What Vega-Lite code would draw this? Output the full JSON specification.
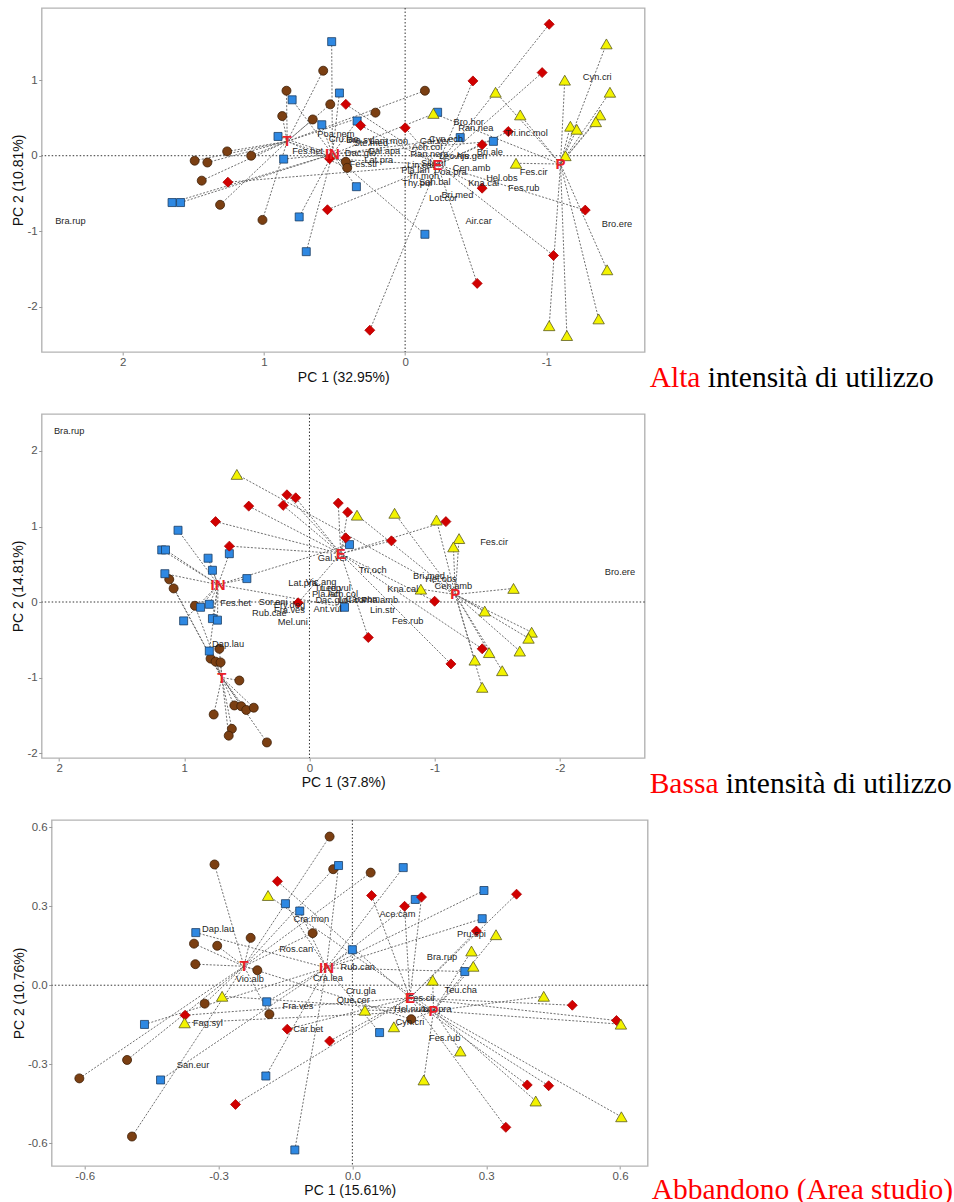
{
"$schema": "https://vega.github.io/schema/vega-lite/v6.json",
"padding": {"left": 9.7, "top": 2, "right": 0, "bottom": 0},
"background": "white",
"config": {
 "view": {"stroke": "#b4b4b4", "strokeWidth": 1.4},
 "font": "Liberation Sans",
 "axis": {"grid": false, "domain": false, "ticks": true, "tickColor": "#9a9a9a", "tickSize": 3, "tickWidth": 1, "labelPadding": 1.5, "labelFont": "Liberation Sans", "labelFontSize": 11.5, "labelColor": "#555555", "labelFlush": false, "labelOverlap": false, "titleFont": "Liberation Sans", "titleFontSize": 14, "titleFontWeight": "normal", "titleColor": "#111111", "titlePadding": 2},
 "axisY": {"titlePadding": 1}
},
"datasets": {
 "p1": [
  {"g":"T","x":0.58,"y":1.125},{"g":"T","x":0.84,"y":0.86},{"g":"T","x":0.87,"y":0.525},{"g":"T","x":0.654,"y":0.48},{"g":"T","x":0.53,"y":0.68},{"g":"T","x":-0.14,"y":0.86},{"g":"T","x":0.21,"y":0.57},{"g":"T","x":0.42,"y":-0.08},{"g":"T","x":0.41,"y":-0.16},{"g":"T","x":1.26,"y":0.057},{"g":"T","x":1.09,"y":0.0},{"g":"T","x":1.49,"y":-0.066},{"g":"T","x":1.40,"y":-0.09},{"g":"T","x":1.44,"y":-0.33},{"g":"T","x":1.31,"y":-0.65},{"g":"T","x":1.01,"y":-0.85},
  {"g":"IN","x":0.52,"y":1.51},{"g":"IN","x":0.80,"y":0.74},{"g":"IN","x":0.90,"y":0.255},{"g":"IN","x":0.59,"y":0.41},{"g":"IN","x":0.86,"y":-0.045},{"g":"IN","x":1.65,"y":-0.62},{"g":"IN","x":1.59,"y":-0.62},{"g":"IN","x":0.75,"y":-0.81},{"g":"IN","x":0.70,"y":-1.27},{"g":"IN","x":0.465,"y":0.83},{"g":"IN","x":0.34,"y":0.46},{"g":"IN","x":0.345,"y":-0.41},{"g":"IN","x":-0.23,"y":0.575},{"g":"IN","x":-0.39,"y":0.24},{"g":"IN","x":-0.625,"y":0.19},{"g":"IN","x":-0.14,"y":-1.04},
  {"g":"E","x":1.255,"y":-0.35},{"g":"E","x":0.55,"y":-0.715},{"g":"E","x":0.535,"y":-0.04},{"g":"E","x":-1.02,"y":1.74},{"g":"E","x":-0.97,"y":1.10},{"g":"E","x":-0.48,"y":0.99},{"g":"E","x":0.42,"y":0.68},{"g":"E","x":0.315,"y":0.40},{"g":"E","x":0.0,"y":0.37},{"g":"E","x":-0.73,"y":0.32},{"g":"E","x":-0.545,"y":0.145},{"g":"E","x":-0.545,"y":-0.43},{"g":"E","x":-1.275,"y":-0.72},{"g":"E","x":-1.05,"y":-1.32},{"g":"E","x":-0.51,"y":-1.69},{"g":"E","x":0.25,"y":-2.31},
  {"g":"P","x":-1.425,"y":1.48},{"g":"P","x":-1.13,"y":1.0},{"g":"P","x":-1.45,"y":0.84},{"g":"P","x":-0.64,"y":0.84},{"g":"P","x":-0.815,"y":0.54},{"g":"P","x":-1.38,"y":0.54},{"g":"P","x":-1.35,"y":0.45},{"g":"P","x":-1.17,"y":0.39},{"g":"P","x":-1.215,"y":0.35},{"g":"P","x":-0.2,"y":0.56},{"g":"P","x":-1.135,"y":0.0},{"g":"P","x":-0.785,"y":-0.1},{"g":"P","x":-1.43,"y":-1.51},{"g":"P","x":-1.37,"y":-2.16},{"g":"P","x":-1.02,"y":-2.25},{"g":"P","x":-1.145,"y":-2.38}
 ],
 "c1": [{"g":"T","x":0.835,"y":0.19},{"g":"IN","x":0.515,"y":0.02},{"g":"E","x":-0.23,"y":-0.12},{"g":"P","x":-1.10,"y":-0.11}],
 "s1": [{"n":"Bra.rup","x":2.37,"y":-0.87},{"n":"Cyn.cri","x":-1.36,"y":1.04},{"n":"Bro.ere","x":-1.50,"y":-0.91},{"n":"Fes.cir","x":-0.91,"y":-0.21},{"n":"Fes.rub","x":-0.84,"y":-0.43},{"n":"Air.car","x":-0.52,"y":-0.86},{"n":"Bro.hor","x":-0.45,"y":0.44},{"n":"Ran.nea","x":-0.50,"y":0.37},{"n":"Tri.inc.mol","x":-0.86,"y":0.30},{"n":"Bri.ale","x":-0.60,"y":0.044},{"n":"Cyn.ech","x":-0.29,"y":0.22},{"n":"Gal.ver","x":-0.21,"y":0.19},{"n":"Ach.col","x":-0.155,"y":0.12},{"n":"Ran.nem","x":-0.17,"y":0.026},{"n":"Leo.his","x":-0.345,"y":0.0},{"n":"Aju.gen","x":-0.47,"y":0.0},{"n":"Lin.cat","x":-0.11,"y":-0.12},{"n":"Sil.vul","x":-0.20,"y":-0.10},{"n":"Pla.lan","x":-0.073,"y":-0.19},{"n":"Cen.amb","x":-0.47,"y":-0.16},{"n":"Poa.pra","x":-0.32,"y":-0.22},{"n":"Tri.mon","x":-0.13,"y":-0.27},{"n":"Hel.obs","x":-0.685,"y":-0.29},{"n":"Kna.cal","x":-0.556,"y":-0.36},{"n":"Thy.pul","x":-0.085,"y":-0.36},{"n":"San.bal","x":-0.21,"y":-0.35},{"n":"Bri.med","x":-0.37,"y":-0.52},{"n":"Lot.cor","x":-0.27,"y":-0.56},{"n":"Poa.nem","x":0.49,"y":0.29},{"n":"Cru.lae","x":0.435,"y":0.22},{"n":"Bra.syl","x":0.316,"y":0.21},{"n":"Ste.med","x":0.243,"y":0.168},{"n":"Lam.mon","x":0.116,"y":0.19},{"n":"Fes.het","x":0.69,"y":0.057},{"n":"Dac.glo","x":0.316,"y":0.036},{"n":"Gal.apa","x":0.15,"y":0.057},{"n":"Lat.pra","x":0.187,"y":-0.053},{"n":"Fes.str","x":0.293,"y":-0.11}],
 "p2": [
  {"g":"T","x":1.12,"y":0.30},{"g":"T","x":1.085,"y":0.18},{"g":"T","x":0.915,"y":-0.05},{"g":"T","x":0.79,"y":-0.75},{"g":"T","x":0.75,"y":-0.79},{"g":"T","x":0.71,"y":-0.80},{"g":"T","x":0.72,"y":-0.62},{"g":"T","x":0.56,"y":-1.04},{"g":"T","x":0.765,"y":-1.49},{"g":"T","x":0.60,"y":-1.37},{"g":"T","x":0.545,"y":-1.38},{"g":"T","x":0.505,"y":-1.43},{"g":"T","x":0.445,"y":-1.40},{"g":"T","x":0.62,"y":-1.68},{"g":"T","x":0.645,"y":-1.77},{"g":"T","x":0.34,"y":-1.86},
  {"g":"IN","x":1.05,"y":0.95},{"g":"IN","x":1.18,"y":0.69},{"g":"IN","x":1.15,"y":0.69},{"g":"IN","x":1.155,"y":0.375},{"g":"IN","x":0.81,"y":0.58},{"g":"IN","x":0.775,"y":0.42},{"g":"IN","x":0.64,"y":0.64},{"g":"IN","x":0.50,"y":0.31},{"g":"IN","x":0.87,"y":-0.07},{"g":"IN","x":0.80,"y":-0.03},{"g":"IN","x":1.005,"y":-0.25},{"g":"IN","x":0.775,"y":-0.22},{"g":"IN","x":0.735,"y":-0.24},{"g":"IN","x":0.80,"y":-0.65},{"g":"IN","x":-0.32,"y":0.76},{"g":"IN","x":-0.28,"y":-0.07},
  {"g":"E","x":0.18,"y":1.42},{"g":"E","x":0.11,"y":1.38},{"g":"E","x":0.21,"y":1.28},{"g":"E","x":0.485,"y":1.27},{"g":"E","x":0.75,"y":1.065},{"g":"E","x":0.64,"y":0.74},{"g":"E","x":0.09,"y":-0.01},{"g":"E","x":-0.23,"y":1.31},{"g":"E","x":-0.305,"y":1.19},{"g":"E","x":-0.29,"y":0.85},{"g":"E","x":-0.655,"y":0.81},{"g":"E","x":-1.09,"y":1.065},{"g":"E","x":-0.47,"y":-0.47},{"g":"E","x":-1.0,"y":0.01},{"g":"E","x":-1.13,"y":-0.82},{"g":"E","x":-1.38,"y":-0.62},
  {"g":"P","x":0.58,"y":1.69},{"g":"P","x":-0.38,"y":1.15},{"g":"P","x":-0.68,"y":1.175},{"g":"P","x":-1.015,"y":1.085},{"g":"P","x":-1.195,"y":0.84},{"g":"P","x":-1.15,"y":0.73},{"g":"P","x":-0.89,"y":0.17},{"g":"P","x":-1.63,"y":0.18},{"g":"P","x":-1.40,"y":-0.12},{"g":"P","x":-1.775,"y":-0.40},{"g":"P","x":-1.75,"y":-0.48},{"g":"P","x":-1.68,"y":-0.65},{"g":"P","x":-1.435,"y":-0.67},{"g":"P","x":-1.32,"y":-0.77},{"g":"P","x":-1.54,"y":-0.91},{"g":"P","x":-1.38,"y":-1.13}
 ],
 "c2": [{"g":"T","x":0.70,"y":-1.0},{"g":"IN","x":0.73,"y":0.23},{"g":"E","x":-0.25,"y":0.64},{"g":"P","x":-1.165,"y":0.10}],
 "s2": [{"n":"Bra.rup","x":1.92,"y":2.27},{"n":"Bro.ere","x":-2.48,"y":0.40},{"n":"Fes.cir","x":-1.475,"y":0.79},{"n":"Tri.och","x":-0.505,"y":0.43},{"n":"Bri.med","x":-0.955,"y":0.35},{"n":"Hel.obs","x":-1.05,"y":0.30},{"n":"Cen.amb","x":-1.15,"y":0.21},{"n":"Kna.cal","x":-0.745,"y":0.17},{"n":"Lin.str","x":-0.585,"y":-0.10},{"n":"Fes.rub","x":-0.785,"y":-0.25},{"n":"Gal.ver","x":-0.186,"y":0.58},{"n":"Lat.pra","x":0.053,"y":0.25},{"n":"Vic.ang","x":-0.093,"y":0.265},{"n":"Tri.rep","x":-0.146,"y":0.18},{"n":"Leu.vul","x":-0.21,"y":0.19},{"n":"Pla.lan","x":-0.133,"y":0.11},{"n":"Ach.col","x":-0.266,"y":0.11},{"n":"Dac.glo","x":-0.173,"y":0.02},{"n":"Lot.cor","x":-0.345,"y":0.02},{"n":"Car.com","x":-0.425,"y":0.045},{"n":"Pha.amb","x":-0.56,"y":0.02},{"n":"Ant.vul","x":-0.146,"y":-0.09},{"n":"Fes.het","x":0.59,"y":-0.01},{"n":"Sor.ani","x":0.29,"y":0.0},{"n":"Ery.deg","x":0.16,"y":-0.04},{"n":"Fra.ves","x":0.16,"y":-0.10},{"n":"Rub.cae","x":0.32,"y":-0.15},{"n":"Mel.uni","x":0.133,"y":-0.26},{"n":"Dap.lau","x":0.65,"y":-0.55}],
 "p3": [
  {"g":"T","x":-0.051,"y":0.565},{"g":"T","x":-0.309,"y":0.459},{"g":"T","x":-0.228,"y":0.18},{"g":"T","x":-0.355,"y":0.158},{"g":"T","x":-0.303,"y":0.15},{"g":"T","x":-0.352,"y":0.08},{"g":"T","x":-0.213,"y":0.057},{"g":"T","x":-0.089,"y":0.198},{"g":"T","x":-0.331,"y":-0.07},{"g":"T","x":-0.186,"y":-0.11},{"g":"T","x":-0.505,"y":-0.284},{"g":"T","x":-0.612,"y":-0.354},{"g":"T","x":-0.494,"y":-0.575},{"g":"T","x":-0.043,"y":0.441},{"g":"T","x":0.041,"y":0.428},{"g":"T","x":0.132,"y":-0.129},
  {"g":"IN","x":-0.150,"y":0.31},{"g":"IN","x":-0.118,"y":0.282},{"g":"IN","x":-0.351,"y":0.20},{"g":"IN","x":-0.192,"y":-0.063},{"g":"IN","x":-0.466,"y":-0.149},{"g":"IN","x":-0.43,"y":-0.36},{"g":"IN","x":-0.194,"y":-0.345},{"g":"IN","x":-0.129,"y":-0.626},{"g":"IN","x":-0.031,"y":0.455},{"g":"IN","x":0.114,"y":0.447},{"g":"IN","x":0.295,"y":0.36},{"g":"IN","x":0.141,"y":0.326},{"g":"IN","x":0.291,"y":0.253},{"g":"IN","x":0.0,"y":0.135},{"g":"IN","x":0.252,"y":0.052},{"g":"IN","x":0.061,"y":-0.18},
  {"g":"E","x":-0.168,"y":0.395},{"g":"E","x":-0.375,"y":-0.114},{"g":"E","x":-0.146,"y":-0.167},{"g":"E","x":-0.262,"y":-0.453},{"g":"E","x":-0.051,"y":-0.212},{"g":"E","x":0.043,"y":0.341},{"g":"E","x":0.117,"y":0.30},{"g":"E","x":0.155,"y":0.335},{"g":"E","x":0.368,"y":0.346},{"g":"E","x":0.278,"y":0.206},{"g":"E","x":0.493,"y":-0.076},{"g":"E","x":0.592,"y":-0.134},{"g":"E","x":0.392,"y":-0.379},{"g":"E","x":0.44,"y":-0.382},{"g":"E","x":0.344,"y":-0.54},
  {"g":"P","x":-0.189,"y":0.341},{"g":"P","x":-0.292,"y":-0.042},{"g":"P","x":-0.376,"y":-0.143},{"g":"P","x":0.322,"y":0.192},{"g":"P","x":0.267,"y":0.13},{"g":"P","x":0.271,"y":0.072},{"g":"P","x":0.18,"y":0.019},{"g":"P","x":0.429,"y":-0.042},{"g":"P","x":0.028,"y":-0.095},{"g":"P","x":0.093,"y":-0.158},{"g":"P","x":0.602,"y":-0.148},{"g":"P","x":0.242,"y":-0.25},{"g":"P","x":0.16,"y":-0.36},{"g":"P","x":0.411,"y":-0.44},{"g":"P","x":0.603,"y":-0.50}
 ],
 "c3": [{"g":"T","x":-0.243,"y":0.072},{"g":"IN","x":-0.058,"y":0.066},{"g":"E","x":0.129,"y":-0.048},{"g":"P","x":0.182,"y":-0.097}],
 "s3": [{"n":"Dap.lau","x":-0.301,"y":0.215},{"n":"Cra.mon","x":-0.092,"y":0.25},{"n":"Ros.can","x":-0.126,"y":0.137},{"n":"Vio.alb","x":-0.23,"y":0.023},{"n":"Cra.lea","x":-0.055,"y":0.028},{"n":"Fra.ves","x":-0.122,"y":-0.08},{"n":"Fag.syl","x":-0.324,"y":-0.143},{"n":"Car.bet","x":-0.099,"y":-0.165},{"n":"San.eur","x":-0.357,"y":-0.303},{"n":"Ace.cam","x":0.101,"y":0.272},{"n":"Pru.spi","x":0.267,"y":0.196},{"n":"Bra.rup","x":0.201,"y":0.107},{"n":"Rub.can","x":0.012,"y":0.069},{"n":"Teu.cha","x":0.243,"y":-0.017},{"n":"Cru.gla","x":0.019,"y":-0.022},{"n":"Que.cer","x":0.002,"y":-0.057},{"n":"Fes.cir","x":0.155,"y":-0.047},{"n":"Hel.num","x":0.132,"y":-0.089},{"n":"Lot.pra","x":0.19,"y":-0.089},{"n":"Cyn.cri","x":0.129,"y":-0.139},{"n":"Fes.rub","x":0.207,"y":-0.202}]
},
"columns": 1,
"spacing": 15,
"concat": [
 {"spacing": 0, "hconcat": [
  {"width": 1, "height": 1, "view": {"stroke": null}, "data": {"values": [{}]}, "mark": {"type": "text"}, "encoding": {"text": {"value": ""}}},
  {"spacing": 3, "hconcat": [
  {"width": 603, "height": 344, "layer": [
   {"data": {"values": [{}]}, "mark": {"type": "rule", "color": "#333333", "strokeWidth": 1, "strokeDash": [1.5, 2]},
    "encoding": {"x": {"datum": 0, "type": "quantitative", "scale": {"domain": [-1.696, 2.573], "reverse": true, "nice": false, "zero": false}, "axis": {"values": [-1, 0, 1, 2], "labelExpr": "replace(datum.label, '−', '-')"}, "title": "PC 1 (32.95%)"}}},
   {"data": {"values": [{}]}, "mark": {"type": "rule", "color": "#333333", "strokeWidth": 1, "strokeDash": [1.5, 2]},
    "encoding": {"y": {"datum": 0, "type": "quantitative", "scale": {"domain": [-2.598, 1.955], "nice": false, "zero": false}, "axis": {"values": [-2, -1, 0, 1], "labelExpr": "replace(datum.label, '−', '-')"}, "title": "PC 2 (10.81%)"}}},
   {"data": {"name": "p1"}, "transform": [{"lookup": "g", "from": {"data": {"name": "c1"}, "key": "g", "fields": ["x", "y"]}, "as": ["cx", "cy"]}],
    "mark": {"type": "rule", "color": "#5e5e5e", "strokeWidth": 0.9, "strokeDash": [2, 1.6], "clip": true},
    "encoding": {
     "x": {"field": "x", "type": "quantitative", "scale": {"domain": [-1.696, 2.573], "reverse": true, "nice": false, "zero": false}, "axis": {"values": [-1, 0, 1, 2], "labelExpr": "replace(datum.label, '−', '-')"}, "title": "PC 1 (32.95%)"},
     "y": {"field": "y", "type": "quantitative", "scale": {"domain": [-2.598, 1.955], "nice": false, "zero": false}, "axis": {"values": [-2, -1, 0, 1], "labelExpr": "replace(datum.label, '−', '-')"}, "title": "PC 2 (10.81%)"},
     "x2": {"field": "cx"}, "y2": {"field": "cy"}}},
   {"data": {"name": "p1"}, "mark": {"type": "point", "filled": true, "opacity": 1, "strokeWidth": 0.8, "clip": true},
    "encoding": {
     "x": {"field": "x", "type": "quantitative", "scale": {"domain": [-1.696, 2.573], "reverse": true, "nice": false, "zero": false}, "axis": {"values": [-1, 0, 1, 2], "labelExpr": "replace(datum.label, '−', '-')"}, "title": "PC 1 (32.95%)"},
     "y": {"field": "y", "type": "quantitative", "scale": {"domain": [-2.598, 1.955], "nice": false, "zero": false}, "axis": {"values": [-2, -1, 0, 1], "labelExpr": "replace(datum.label, '−', '-')"}, "title": "PC 2 (10.81%)"},
     "shape": {"field": "g", "type": "nominal", "scale": {"domain": ["T", "IN", "E", "P"], "range": ["circle", "square", "diamond", "triangle-up"]}, "legend": null},
     "fill": {"field": "g", "type": "nominal", "scale": {"domain": ["T", "IN", "E", "P"], "range": ["#7b3f12", "#2e88e2", "#d10000", "#f3f300"]}, "legend": null},
     "stroke": {"field": "g", "type": "nominal", "scale": {"domain": ["T", "IN", "E", "P"], "range": ["#3d1f08", "#1c3d63", "#b00000", "#5a5a20"]}, "legend": null},
     "size": {"field": "g", "type": "nominal", "scale": {"type": "ordinal", "domain": ["T", "IN", "E", "P"], "range": [81, 64, 100, 130]}, "legend": null}}},
   {"data": {"name": "s1"}, "mark": {"type": "text", "fontSize": 9.3, "color": "#1f1f1f", "clip": true},
    "encoding": {
     "x": {"field": "x", "type": "quantitative", "scale": {"domain": [-1.696, 2.573], "reverse": true, "nice": false, "zero": false}, "axis": {"values": [-1, 0, 1, 2], "labelExpr": "replace(datum.label, '−', '-')"}, "title": "PC 1 (32.95%)"},
     "y": {"field": "y", "type": "quantitative", "scale": {"domain": [-2.598, 1.955], "nice": false, "zero": false}, "axis": {"values": [-2, -1, 0, 1], "labelExpr": "replace(datum.label, '−', '-')"}, "title": "PC 2 (10.81%)"},
     "text": {"field": "n"}}},
   {"data": {"name": "c1"}, "mark": {"type": "text", "fontSize": 15, "fontWeight": "bold", "color": "#ea2027"},
    "encoding": {
     "x": {"field": "x", "type": "quantitative", "scale": {"domain": [-1.696, 2.573], "reverse": true, "nice": false, "zero": false}, "axis": {"values": [-1, 0, 1, 2], "labelExpr": "replace(datum.label, '−', '-')"}, "title": "PC 1 (32.95%)"},
     "y": {"field": "y", "type": "quantitative", "scale": {"domain": [-2.598, 1.955], "nice": false, "zero": false}, "axis": {"values": [-2, -1, 0, 1], "labelExpr": "replace(datum.label, '−', '-')"}, "title": "PC 2 (10.81%)"},
     "text": {"field": "g"}}}
  ]},
  {"width": 300, "height": 379, "view": {"stroke": null}, "data": {"values": [{"a": "Alta", "b": "intensità di utilizzo"}]}, "layer": [
   {"mark": {"type": "text", "font": "Liberation Serif", "fontSize": 29.5, "color": "#ff0000", "align": "left", "baseline": "alphabetic"},
    "encoding": {"text": {"field": "a"}, "x": {"datum": 0, "type": "quantitative", "scale": {"domain": [0, 1]}, "axis": null}, "y": {"datum": 0, "type": "quantitative", "scale": {"domain": [0, 1]}, "axis": null}}},
   {"mark": {"type": "text", "font": "Liberation Serif", "fontSize": 29.5, "color": "#000000", "align": "left", "baseline": "alphabetic", "dx": 58},
    "encoding": {"text": {"field": "b"}, "x": {"datum": 0, "type": "quantitative", "scale": {"domain": [0, 1]}, "axis": null}, "y": {"datum": 0, "type": "quantitative", "scale": {"domain": [0, 1]}, "axis": null}}}
  ]}
  ]}
 ]},
 {"spacing": 0, "hconcat": [
  {"width": 1, "height": 1, "view": {"stroke": null}, "data": {"values": [{}]}, "mark": {"type": "text"}, "encoding": {"text": {"value": ""}}},
  {"spacing": 3, "hconcat": [
  {"width": 603, "height": 344, "layer": [
   {"data": {"values": [{}]}, "mark": {"type": "rule", "color": "#333333", "strokeWidth": 1, "strokeDash": [1.5, 2]},
    "encoding": {"x": {"datum": 0, "type": "quantitative", "scale": {"domain": [-2.678, 2.139], "reverse": true, "nice": false, "zero": false}, "axis": {"values": [-2, -1, 0, 1, 2], "labelExpr": "replace(datum.label, '−', '-')"}, "title": "PC 1 (37.8%)"}}},
   {"data": {"values": [{}]}, "mark": {"type": "rule", "color": "#333333", "strokeWidth": 1, "strokeDash": [1.5, 2]},
    "encoding": {"y": {"datum": 0, "type": "quantitative", "scale": {"domain": [-2.066, 2.49], "nice": false, "zero": false}, "axis": {"values": [-2, -1, 0, 1, 2], "labelExpr": "replace(datum.label, '−', '-')"}, "title": "PC 2 (14.81%)"}}},
   {"data": {"name": "p2"}, "transform": [{"lookup": "g", "from": {"data": {"name": "c2"}, "key": "g", "fields": ["x", "y"]}, "as": ["cx", "cy"]}],
    "mark": {"type": "rule", "color": "#5e5e5e", "strokeWidth": 0.9, "strokeDash": [2, 1.6], "clip": true},
    "encoding": {
     "x": {"field": "x", "type": "quantitative", "scale": {"domain": [-2.678, 2.139], "reverse": true, "nice": false, "zero": false}, "axis": {"values": [-2, -1, 0, 1, 2], "labelExpr": "replace(datum.label, '−', '-')"}, "title": "PC 1 (37.8%)"},
     "y": {"field": "y", "type": "quantitative", "scale": {"domain": [-2.066, 2.49], "nice": false, "zero": false}, "axis": {"values": [-2, -1, 0, 1, 2], "labelExpr": "replace(datum.label, '−', '-')"}, "title": "PC 2 (14.81%)"},
     "x2": {"field": "cx"}, "y2": {"field": "cy"}}},
   {"data": {"name": "p2"}, "mark": {"type": "point", "filled": true, "opacity": 1, "strokeWidth": 0.8, "clip": true},
    "encoding": {
     "x": {"field": "x", "type": "quantitative", "scale": {"domain": [-2.678, 2.139], "reverse": true, "nice": false, "zero": false}, "axis": {"values": [-2, -1, 0, 1, 2], "labelExpr": "replace(datum.label, '−', '-')"}, "title": "PC 1 (37.8%)"},
     "y": {"field": "y", "type": "quantitative", "scale": {"domain": [-2.066, 2.49], "nice": false, "zero": false}, "axis": {"values": [-2, -1, 0, 1, 2], "labelExpr": "replace(datum.label, '−', '-')"}, "title": "PC 2 (14.81%)"},
     "shape": {"field": "g", "type": "nominal", "scale": {"domain": ["T", "IN", "E", "P"], "range": ["circle", "square", "diamond", "triangle-up"]}, "legend": null},
     "fill": {"field": "g", "type": "nominal", "scale": {"domain": ["T", "IN", "E", "P"], "range": ["#7b3f12", "#2e88e2", "#d10000", "#f3f300"]}, "legend": null},
     "stroke": {"field": "g", "type": "nominal", "scale": {"domain": ["T", "IN", "E", "P"], "range": ["#3d1f08", "#1c3d63", "#b00000", "#5a5a20"]}, "legend": null},
     "size": {"field": "g", "type": "nominal", "scale": {"type": "ordinal", "domain": ["T", "IN", "E", "P"], "range": [81, 64, 100, 130]}, "legend": null}}},
   {"data": {"name": "s2"}, "mark": {"type": "text", "fontSize": 9.3, "color": "#1f1f1f", "clip": true},
    "encoding": {
     "x": {"field": "x", "type": "quantitative", "scale": {"domain": [-2.678, 2.139], "reverse": true, "nice": false, "zero": false}, "axis": {"values": [-2, -1, 0, 1, 2], "labelExpr": "replace(datum.label, '−', '-')"}, "title": "PC 1 (37.8%)"},
     "y": {"field": "y", "type": "quantitative", "scale": {"domain": [-2.066, 2.49], "nice": false, "zero": false}, "axis": {"values": [-2, -1, 0, 1, 2], "labelExpr": "replace(datum.label, '−', '-')"}, "title": "PC 2 (14.81%)"},
     "text": {"field": "n"}}},
   {"data": {"name": "c2"}, "mark": {"type": "text", "fontSize": 15, "fontWeight": "bold", "color": "#ea2027"},
    "encoding": {
     "x": {"field": "x", "type": "quantitative", "scale": {"domain": [-2.678, 2.139], "reverse": true, "nice": false, "zero": false}, "axis": {"values": [-2, -1, 0, 1, 2], "labelExpr": "replace(datum.label, '−', '-')"}, "title": "PC 1 (37.8%)"},
     "y": {"field": "y", "type": "quantitative", "scale": {"domain": [-2.066, 2.49], "nice": false, "zero": false}, "axis": {"values": [-2, -1, 0, 1, 2], "labelExpr": "replace(datum.label, '−', '-')"}, "title": "PC 2 (14.81%)"},
     "text": {"field": "g"}}}
  ]},
  {"width": 300, "height": 379, "view": {"stroke": null}, "data": {"values": [{"a": "Bassa", "b": "intensità di utilizzo"}]}, "layer": [
   {"mark": {"type": "text", "font": "Liberation Serif", "fontSize": 29.5, "color": "#ff0000", "align": "left", "baseline": "alphabetic"},
    "encoding": {"text": {"field": "a"}, "x": {"datum": 0, "type": "quantitative", "scale": {"domain": [0, 1]}, "axis": null}, "y": {"datum": 0, "type": "quantitative", "scale": {"domain": [0, 1]}, "axis": null}}},
   {"mark": {"type": "text", "font": "Liberation Serif", "fontSize": 29.5, "color": "#000000", "align": "left", "baseline": "alphabetic", "dx": 76},
    "encoding": {"text": {"field": "b"}, "x": {"datum": 0, "type": "quantitative", "scale": {"domain": [0, 1]}, "axis": null}, "y": {"datum": 0, "type": "quantitative", "scale": {"domain": [0, 1]}, "axis": null}}}
  ]}
  ]}
 ]},
 {"spacing": 0, "hconcat": [
  {"width": 1, "height": 1, "view": {"stroke": null}, "data": {"values": [{}]}, "mark": {"type": "text"}, "encoding": {"text": {"value": ""}}},
  {"spacing": 2, "hconcat": [
  {"width": 596, "height": 346, "layer": [
   {"data": {"values": [{}]}, "mark": {"type": "rule", "color": "#333333", "strokeWidth": 1, "strokeDash": [1.5, 2]},
    "encoding": {"x": {"datum": 0, "type": "quantitative", "scale": {"domain": [-0.674, 0.662], "nice": false, "zero": false}, "axis": {"values": [-0.6, -0.3, 0, 0.3, 0.6], "format": ".1f", "labelExpr": "replace(datum.label, '−', '-')"}, "title": "PC 1 (15.61%)"}}},
   {"data": {"values": [{}]}, "mark": {"type": "rule", "color": "#333333", "strokeWidth": 1, "strokeDash": [1.5, 2]},
    "encoding": {"y": {"datum": 0, "type": "quantitative", "scale": {"domain": [-0.687, 0.628], "nice": false, "zero": false}, "axis": {"values": [-0.6, -0.3, 0, 0.3, 0.6], "format": ".1f", "labelExpr": "replace(datum.label, '−', '-')"}, "title": "PC 2 (10.76%)"}}},
   {"data": {"name": "p3"}, "transform": [{"lookup": "g", "from": {"data": {"name": "c3"}, "key": "g", "fields": ["x", "y"]}, "as": ["cx", "cy"]}],
    "mark": {"type": "rule", "color": "#5e5e5e", "strokeWidth": 0.9, "strokeDash": [2, 1.6], "clip": true},
    "encoding": {
     "x": {"field": "x", "type": "quantitative", "scale": {"domain": [-0.674, 0.662], "nice": false, "zero": false}, "axis": {"values": [-0.6, -0.3, 0, 0.3, 0.6], "format": ".1f", "labelExpr": "replace(datum.label, '−', '-')"}, "title": "PC 1 (15.61%)"},
     "y": {"field": "y", "type": "quantitative", "scale": {"domain": [-0.687, 0.628], "nice": false, "zero": false}, "axis": {"values": [-0.6, -0.3, 0, 0.3, 0.6], "format": ".1f", "labelExpr": "replace(datum.label, '−', '-')"}, "title": "PC 2 (10.76%)"},
     "x2": {"field": "cx"}, "y2": {"field": "cy"}}},
   {"data": {"name": "p3"}, "mark": {"type": "point", "filled": true, "opacity": 1, "strokeWidth": 0.8, "clip": true},
    "encoding": {
     "x": {"field": "x", "type": "quantitative", "scale": {"domain": [-0.674, 0.662], "nice": false, "zero": false}, "axis": {"values": [-0.6, -0.3, 0, 0.3, 0.6], "format": ".1f", "labelExpr": "replace(datum.label, '−', '-')"}, "title": "PC 1 (15.61%)"},
     "y": {"field": "y", "type": "quantitative", "scale": {"domain": [-0.687, 0.628], "nice": false, "zero": false}, "axis": {"values": [-0.6, -0.3, 0, 0.3, 0.6], "format": ".1f", "labelExpr": "replace(datum.label, '−', '-')"}, "title": "PC 2 (10.76%)"},
     "shape": {"field": "g", "type": "nominal", "scale": {"domain": ["T", "IN", "E", "P"], "range": ["circle", "square", "diamond", "triangle-up"]}, "legend": null},
     "fill": {"field": "g", "type": "nominal", "scale": {"domain": ["T", "IN", "E", "P"], "range": ["#7b3f12", "#2e88e2", "#d10000", "#f3f300"]}, "legend": null},
     "stroke": {"field": "g", "type": "nominal", "scale": {"domain": ["T", "IN", "E", "P"], "range": ["#3d1f08", "#1c3d63", "#b00000", "#5a5a20"]}, "legend": null},
     "size": {"field": "g", "type": "nominal", "scale": {"type": "ordinal", "domain": ["T", "IN", "E", "P"], "range": [81, 64, 100, 130]}, "legend": null}}},
   {"data": {"name": "s3"}, "mark": {"type": "text", "fontSize": 9.3, "color": "#1f1f1f", "clip": true},
    "encoding": {
     "x": {"field": "x", "type": "quantitative", "scale": {"domain": [-0.674, 0.662], "nice": false, "zero": false}, "axis": {"values": [-0.6, -0.3, 0, 0.3, 0.6], "format": ".1f", "labelExpr": "replace(datum.label, '−', '-')"}, "title": "PC 1 (15.61%)"},
     "y": {"field": "y", "type": "quantitative", "scale": {"domain": [-0.687, 0.628], "nice": false, "zero": false}, "axis": {"values": [-0.6, -0.3, 0, 0.3, 0.6], "format": ".1f", "labelExpr": "replace(datum.label, '−', '-')"}, "title": "PC 2 (10.76%)"},
     "text": {"field": "n"}}},
   {"data": {"name": "c3"}, "mark": {"type": "text", "fontSize": 15, "fontWeight": "bold", "color": "#ea2027"},
    "encoding": {
     "x": {"field": "x", "type": "quantitative", "scale": {"domain": [-0.674, 0.662], "nice": false, "zero": false}, "axis": {"values": [-0.6, -0.3, 0, 0.3, 0.6], "format": ".1f", "labelExpr": "replace(datum.label, '−', '-')"}, "title": "PC 1 (15.61%)"},
     "y": {"field": "y", "type": "quantitative", "scale": {"domain": [-0.687, 0.628], "nice": false, "zero": false}, "axis": {"values": [-0.6, -0.3, 0, 0.3, 0.6], "format": ".1f", "labelExpr": "replace(datum.label, '−', '-')"}, "title": "PC 2 (10.76%)"},
     "text": {"field": "g"}}}
  ]},
  {"width": 300, "height": 379, "view": {"stroke": null}, "data": {"values": [{"a": "Abbandono (Area studio)"}]}, "layer": [
   {"mark": {"type": "text", "font": "Liberation Serif", "fontSize": 29.5, "color": "#ff0000", "align": "left", "baseline": "alphabetic"},
    "encoding": {"text": {"field": "a"}, "x": {"datum": 0, "type": "quantitative", "scale": {"domain": [0, 1]}, "axis": null}, "y": {"datum": 0, "type": "quantitative", "scale": {"domain": [0, 1]}, "axis": null}}}
  ]}
  ]}
 ]}
]
}
